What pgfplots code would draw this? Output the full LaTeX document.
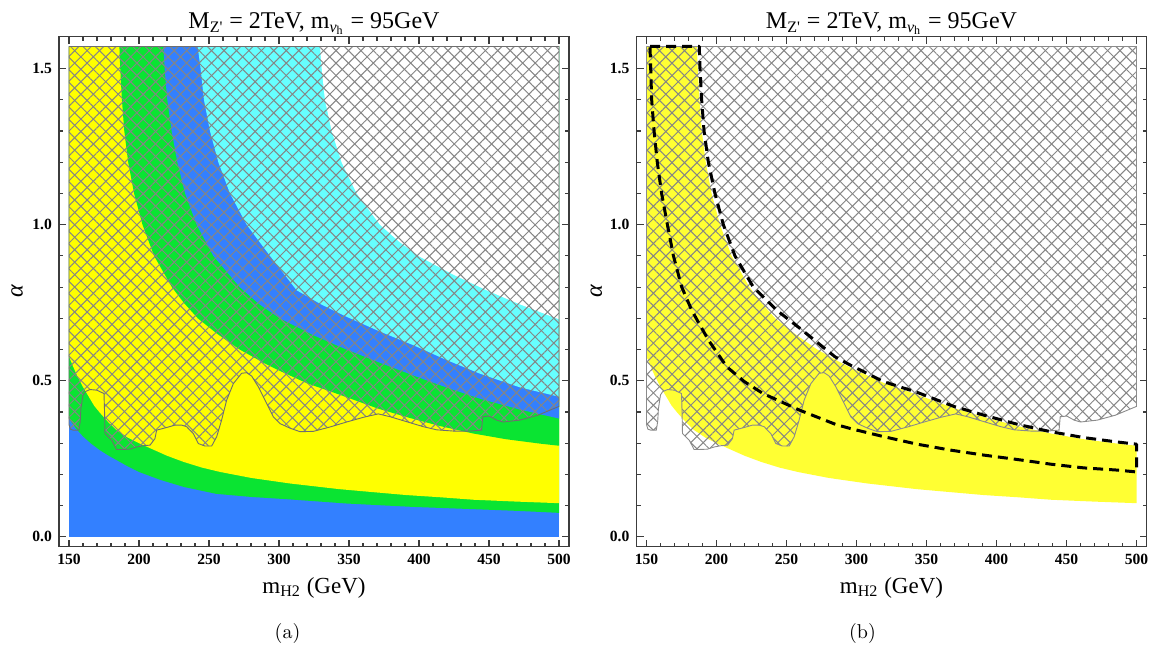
\documentclass[border=0pt]{standalone}
\usepackage{pgfplots}
\pgfplotsset{compat=1.18}
\usepackage{pgfplotstable}
\usetikzlibrary{patterns.meta}
\usepackage{fontspec}
\newfontfamily\tnr{Liberation Serif}
\definecolor{cyel}{HTML}{FFFF00}
\definecolor{cyelb}{HTML}{FFFF33}
\definecolor{cgrn}{HTML}{0AE432}
\definecolor{cblu}{HTML}{3380FF}
\definecolor{ccya}{HTML}{66FFFF}
\definecolor{hatchgray}{HTML}{858585}
\definecolor{hatchline}{HTML}{6E6E6E}
\definecolor{framegray}{HTML}{3C3C3C}

\pgfplotstableread{
x y
150 1.5708
500 1.5708
500 0.418
485 0.390
472 0.374
460 0.368
455.5 0.374
450.2 0.387
445.5 0.385
444.7 0.342
436.4 0.339
424.5 0.339
412.6 0.343
403.1 0.353
391.2 0.369
379.3 0.385
370.9 0.394
360.2 0.383
348.3 0.368
336.4 0.352
324.5 0.338
315 0.337
308 0.348
300.7 0.363
295.9 0.385
291.2 0.427
285.2 0.481
280.5 0.515
276.9 0.526
273.3 0.524
267.4 0.491
262.6 0.438
259 0.374
255.5 0.321
251.9 0.291
247.1 0.291
242.4 0.299
238.8 0.331
234 0.353
230.5 0.358
225.7 0.358
218.6 0.349
212.6 0.342
211.4 0.315
207.9 0.294
203.1 0.292
198.3 0.288
193.6 0.281
187.6 0.280
184 0.280
180.5 0.310
175.7 0.331
175.4 0.400
175 0.459
170 0.470
165 0.472
161.5 0.465
160 0.455
158.5 0.410
158 0.370
157 0.342
153 0.342
151 0.345
150 0.360
150 1.5708
}\hatchtab

\pgfplotsset{
  myaxis/.style={
    scale only axis, width=255pt, height=255pt,
    xmin=142.86, xmax=507.14, ymin=-0.0314, ymax=1.6022,
    axis on top,
    axis line style={framegray, line width=0.75pt},
    tick style={framegray, line width=0.55pt},
    tick align=inside,
    major tick length=3.5pt, minor tick length=2pt,
    xtick={150,200,...,500},
    xticklabels={150,200,250,300,350,400,450,500},
    minor x tick num=4,
    ytick={0,0.5,1,1.5},
    yticklabels={0.0,0.5,1.0,1.5},
    minor y tick num=4,
    tick label style={font=\tnr\bfseries\fontsize{7.8}{8}\selectfont},
    xlabel={m\textsubscript{H2} (GeV)},
    xlabel style={font=\tnr\fontsize{11.5}{13}\selectfont, at={(axis description cs:0.5,-0.0914)}, anchor=base},
    ylabel={{\tnr\itshape α}},
    ylabel style={font=\fontsize{12}{12}\selectfont, anchor=center},
    title={M\textsubscript{Z'} = 2TeV, m\textsubscript{{\itshape ν}\textsubscript{h}} = 95GeV},
    title style={font=\tnr\fontsize{12}{14}\selectfont, at={(axis description cs:0.5,1.016)}, anchor=base, yshift=-6pt},
  },
  hatchA/.style={draw=none, pattern={Lines[angle=45,distance=4.4pt,line width=0.5pt]}, pattern color=hatchgray},
  hatchB/.style={draw=none, pattern={Lines[angle=-45,distance=4.4pt,line width=0.5pt]}, pattern color=hatchgray},
}

\begin{document}
\begin{tikzpicture}
\path[use as bounding box] (0,0) rectangle (575pt,324pt);

% ---------------- panel (a)
\begin{axis}[myaxis, at={(29.5pt,50.65pt)}, anchor=south west,
  ylabel style={at={(axis description cs:-0.082,0.5)}}]
% blue background
\addplot[draw=none, fill=cblu] coordinates {(150,0) (500,0) (500,1.5708) (150,1.5708)};
% green above L1
\addplot[draw=none, fill=cgrn] coordinates {
(150,0.379) (155,0.347) (160,0.322) (166,0.298) (172,0.278) (178,0.261) (184,0.246)
(192,0.226) (200,0.208) (215,0.183) (232,0.160) (255,0.138) (280,0.128) (308,0.120)
(348,0.107) (396,0.096) (444,0.088) (472,0.083) (500,0.077) (500,1.5708) (150,1.5708)};
% yellow above L2
\addplot[draw=none, fill=cyel] coordinates {
(150,0.578) (153,0.545) (156,0.515) (160,0.480) (164,0.450) (168,0.420) (172,0.398)
(178,0.368) (184,0.342) (192,0.318) (200,0.300) (208,0.284) (220,0.260) (232,0.240)
(245,0.222) (258,0.208) (280,0.189) (308,0.171) (343,0.153) (363,0.145) (391,0.134)
(415,0.127) (439,0.119) (470,0.113) (500,0.108) (500,1.5708) (150,1.5708)};
% green above U1
\addplot[draw=none, fill=cgrn] coordinates {
(186.0,1.5708) (186.6,1.5) (187.8,1.4) (189.5,1.3) (192.3,1.2) (196.5,1.1) (202.5,1.0)
(210.8,0.9) (223.5,0.8) (232,0.75) (242,0.70) (256,0.65) (272,0.60) (290,0.555)
(300,0.533) (320,0.492) (343,0.456) (370,0.412) (391,0.384) (415,0.355) (439,0.331)
(462,0.313) (486,0.299) (500,0.292) (500,1.5708)};
% blue above U2
\addplot[draw=none, fill=cblu] coordinates {
(217.4,1.5708) (218.3,1.5) (220.2,1.4) (223.3,1.3) (227.4,1.2) (232.9,1.1) (241.2,1.0)
(253.1,0.9) (272,0.8) (286,0.745) (300.7,0.70) (325,0.645) (348.3,0.600) (372,0.558)
(396,0.517) (420,0.478) (444,0.442) (472,0.408) (500,0.379) (500,1.5708)};
% cyan above U3
\addplot[draw=none, fill=ccya] coordinates {
(241.9,1.5708) (244,1.5) (246.4,1.4) (250.7,1.3) (256.7,1.2) (265,1.1) (276.9,1.0)
(293.6,0.9) (312.6,0.79) (330,0.745) (348.3,0.705) (372,0.658) (396,0.614) (420,0.566)
(444,0.522) (472,0.479) (500,0.449) (500,1.5708)};
% white above U4
\addplot[draw=none, fill=white] coordinates {
(329.3,1.5708) (330.5,1.5) (332.8,1.4) (337.6,1.3) (344.7,1.2) (355.5,1.1) (372.1,1.0)
(386,0.945) (400.7,0.897) (424.5,0.84) (448.3,0.79) (472,0.745) (500,0.697) (500,1.5708)};
% hatched exclusion
\addplot[hatchA] table {\hatchtab};
\addplot[hatchB] table {\hatchtab};
\addplot[draw=hatchline, line width=0.45pt] table {\hatchtab};
\end{axis}

% ---------------- panel (b)
\begin{axis}[myaxis, at={(318.25pt,50.65pt)}, anchor=south west,
  ylabel style={at={(axis description cs:-0.079,0.5)}}]
\addplot[draw=none, fill=cyelb] coordinates {
(150,0.578) (153,0.545) (156,0.515) (160,0.480) (164,0.450) (168,0.420) (172,0.398)
(178,0.368) (184,0.342) (192,0.318) (200,0.300) (208,0.284) (220,0.260) (232,0.240)
(245,0.222) (258,0.208) (280,0.189) (308,0.171) (343,0.153) (363,0.145) (391,0.134)
(415,0.127) (439,0.119) (470,0.113) (500,0.108)
(500,0.292) (486,0.299) (462,0.313) (439,0.331) (415,0.355) (391,0.384) (370,0.412)
(343,0.456) (320,0.492) (300,0.533) (290,0.555) (272,0.60) (256,0.65) (242,0.70)
(232,0.75) (223.5,0.8) (210.8,0.9) (202.5,1.0) (196.5,1.1) (192.3,1.2) (189.5,1.3)
(187.8,1.4) (186.6,1.5) (186.0,1.5708) (150,1.5708)};
\addplot[hatchA] table {\hatchtab};
\addplot[hatchB] table {\hatchtab};
\addplot[draw=hatchline!80, line width=0.45pt] table {\hatchtab};
% dashed contour
\addplot[black, line width=1.5pt, dash pattern=on 5pt off 3pt, line join=round] coordinates {
(152.5,1.5708) (187.7,1.5708) (188.2,1.5) (189.4,1.4) (191.1,1.3) (194.2,1.2) (198.9,1.1)
(204.9,1.0) (213.2,0.9) (226.3,0.8) (243,0.726) (259.6,0.668) (284.6,0.577) (295.7,0.550)
(319.5,0.497) (343.3,0.463) (369.5,0.418) (390.9,0.390) (414.7,0.361) (438.6,0.337)
(462.4,0.318) (486.2,0.304) (500,0.297) (500,0.208) (486.2,0.214) (462.4,0.221)
(438.6,0.233) (414.7,0.248) (390.9,0.262) (367.1,0.278) (343.3,0.297) (319.5,0.321)
(295.7,0.347) (285.3,0.360) (259.3,0.406) (233.3,0.459) (220,0.497) (207.3,0.545)
(194.3,0.630) (188.2,0.678) (182.3,0.726) (175.1,0.801) (169.2,0.901) (164.9,1.001)
(160.8,1.1) (157.7,1.2) (155.4,1.3) (153.7,1.4) (153.0,1.5) (152.5,1.5708)};
\end{axis}

\node[font=\fontsize{10}{12}\selectfont] at (143.75pt,7.5pt) {(a)};
\node[font=\fontsize{10}{12}\selectfont] at (431.25pt,7.5pt) {(b)};
\end{tikzpicture}
\end{document}
